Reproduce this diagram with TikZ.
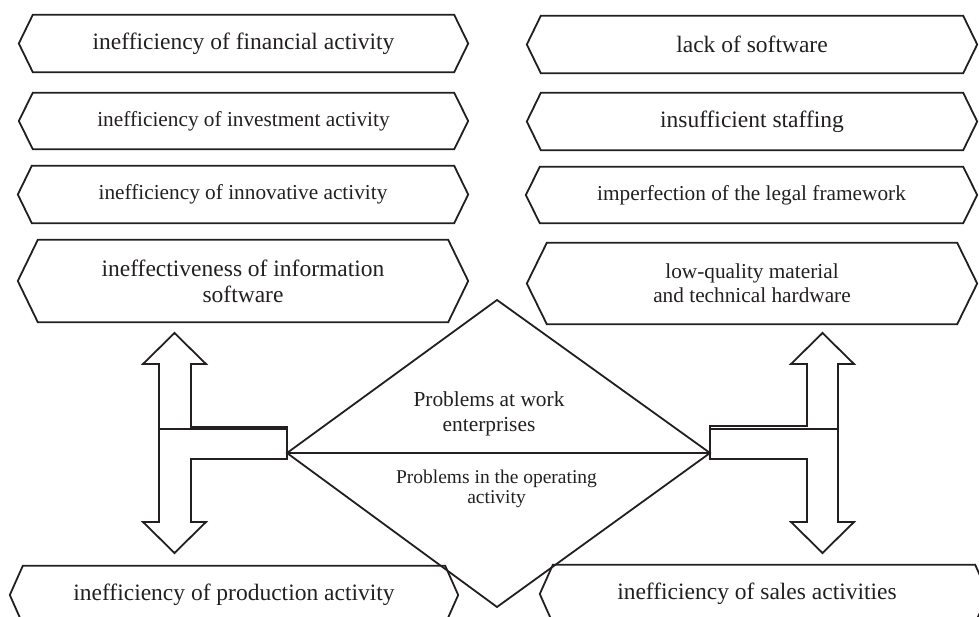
\documentclass[tikz,border=0pt]{standalone}
\usepackage{fontspec}
\setmainfont{Liberation Serif}
\definecolor{ink}{HTML}{231F20}
\begin{document}
\begin{tikzpicture}[x=1pt,y=-1pt,
  ln/.style={draw=ink,line width=1.8pt,line join=miter},
  frame/.style={inner sep=0pt,align=center,text=ink},
  big/.style={frame,font=\fontsize{23.5}{26}\selectfont},
  mid/.style={frame,font=\fontsize{21.3}{24}\selectfont}]
\useasboundingbox (0,0) rectangle (979,617);
\clip (0,0) rectangle (979,617);

% left column of hexagonal boxes
\node[big,minimum width=449pt,minimum height=57pt] (f1) at (243.5,43.5) {inefficiency of financial activity};
\node[mid,minimum width=449pt,minimum height=56pt] (f2) at (243.5,121) {inefficiency of investment activity};
\node[mid,minimum width=450pt,minimum height=57pt] (f3) at (243,194.5) {inefficiency of innovative activity};
\node[big,minimum width=450pt,minimum height=82pt] (f4) at (243,281) {ineffectiveness of information\\software};

% right column of hexagonal boxes
\node[big,minimum width=450pt,minimum height=57pt] (s1) at (752,44.5) {lack of software};
\node[big,minimum width=450pt,minimum height=57pt] (s2) at (752,121.5) {insufficient staffing};
\node[mid,minimum width=451pt,minimum height=56pt] (s3) at (751.5,195) {imperfection of the legal framework};
\node[mid,minimum width=450pt,minimum height=81pt] (s4) at (752,283.5) {low-quality material\\and technical hardware};

% bottom boxes
\node[big,minimum width=448pt,minimum height=58pt] (p1) at (234,595) {inefficiency of production activity};
\node[big,minimum width=448pt,minimum height=58pt] (p2) at (764,594) {inefficiency of sales activities\hspace*{14pt}};

% hexagon outlines around the boxes
\foreach \n/\d in {f1/14,f2/14,f3/14,f4/20,s1/14,s2/14,s3/14,s4/20,p1/13,p2/13}
  \draw[ln] (\n.west) -- ([xshift=\d pt]\n.north west) -- ([xshift=-\d pt]\n.north east)
    -- (\n.east) -- ([xshift=-\d pt]\n.south east) -- ([xshift=\d pt]\n.south west) -- cycle;

% central diamond split in two halves
\coordinate (dl) at (287,453);
\coordinate (dr) at (710,453);
\coordinate (dt) at (497,300);
\coordinate (db) at (497,607);
\draw[ln] (dl) -- (dt) -- (dr) -- (db) -- cycle;
\draw[ln] (dl) -- (dr);
\node[frame,font=\fontsize{21.4}{25}\selectfont] (qa) at (489,414) {Problems at work\\enterprises};
\node[frame,font=\fontsize{19.5}{20.5}\selectfont] (qb) at (496.5,489) {Problems in the operating\\activity};

% left T-shaped double arrow
\draw[ln] (174.5,333) -- (206,364) -- (191,364) -- (191,427) -- (dl |- 0,427) -- (dl |- 0,459)
  -- (191,459) -- (191,522) -- (206,522) -- (174.5,553) -- (143,522) -- (159,522)
  -- (159,364) -- (143,364) -- cycle;
\draw[ln] (159,429) -- (dl |- 0,429);

% right T-shaped double arrow
\draw[ln] (822.5,333) -- (854,364) -- (838,364) -- (838,522) -- (854,522) -- (822.5,553)
  -- (791,522) -- (807,522) -- (807,459) -- (dr |- 0,459) -- (dr |- 0,426)
  -- (807,426) -- (807,364) -- (791,364) -- cycle;
\draw[ln] (dr |- 0,429) -- (838,429);
\end{tikzpicture}
\end{document}
